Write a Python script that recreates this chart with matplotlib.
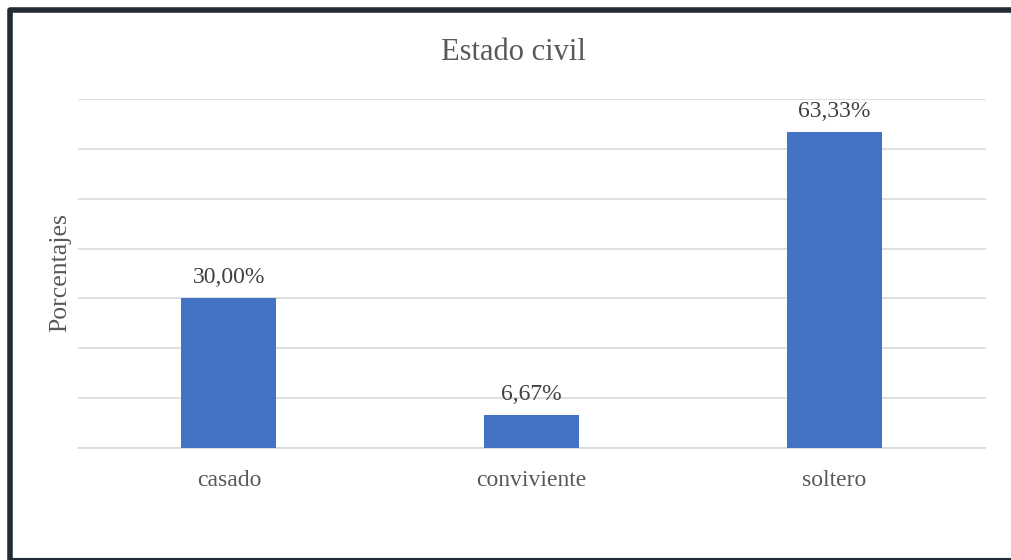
import matplotlib
matplotlib.use("Agg")
import matplotlib.pyplot as plt
from matplotlib.lines import Line2D

# estado civil de los encuestados (%)
categorias = ["casado", "conviviente", "soltero"]
porcentajes = [30.00, 6.67, 63.33]

plt.rcParams['font.family'] = ['Liberation Serif', 'DejaVu Serif']

W, H = 1011, 560
fig = plt.figure(figsize=(W / 100, H / 100), dpi=100)
ax = fig.add_axes([77.5 / W, 1 - 448 / H, (985.5 - 77.5) / W, (448 - 99) / H])

x = range(len(categorias))
barras = ax.bar(x, porcentajes, width=0.314, color="#4472c4", zorder=3)

ax.set_xlim(-0.5, len(categorias) - 0.5)
ax.set_ylim(0, 70)
ax.set_yticks(range(0, 71, 10))
ax.yaxis.grid(True, color="#d9d9d9", linewidth=1.2, zorder=0)
ax.tick_params(axis="y", length=0, labelleft=False)
ax.tick_params(axis="x", length=0, pad=16, labelsize=17, labelcolor="#595959")
ax.set_xticks(list(x))
ax.set_xticklabels(categorias)
for lado in ["top", "right", "left"]:
    ax.spines[lado].set_visible(False)
ax.spines["bottom"].set_color("#d9d9d9")
ax.spines["bottom"].set_linewidth(1.2)

for b, v in zip(barras, porcentajes):
    etiqueta = f"{v:.2f}%".replace(".", ",")
    ax.text(b.get_x() + b.get_width() / 2, v + 3.0, etiqueta,
            ha="center", va="baseline", fontsize=17, color="#404040")

fig.text(513 / W, 1 - 59.5 / H, "Estado civil", ha="center", va="baseline",
         fontsize=22, color="#595959")
fig.text(60 / W, 1 - 273 / H, "Porcentajes", ha="center", va="center",
         rotation=90, fontsize=18.5, color="#595959")

# marco oscuro a la izquierda, arriba y abajo
borde = "#222a35"
fig.add_artist(Line2D([9.5 / W, 9.5 / W, 1], [0, 1 - 9.5 / H, 1 - 9.5 / H],
                      transform=fig.transFigure, color=borde, linewidth=4,
                      solid_joinstyle="round"))
fig.add_artist(Line2D([9.5 / W, 1], [1.5 / H, 1.5 / H],
                      transform=fig.transFigure, color=borde, linewidth=1.5))

fig.savefig("out.png", dpi=100, facecolor="white")
